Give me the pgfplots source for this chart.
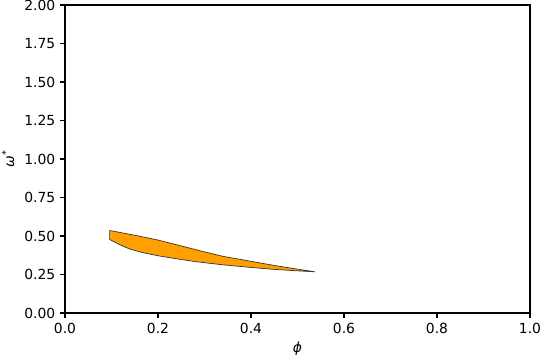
\documentclass[border=0pt]{standalone}
\usepackage{pgfplots}
\pgfplotsset{compat=1.18}
\usepackage{fontspec}
\setmainfont{DejaVu Sans}
\definecolor{mplorange}{HTML}{FFA000}
\begin{document}
\begin{tikzpicture}
\path[use as bounding box] (-46.8pt,-33.8pt) rectangle (342pt,225.4pt);
\begin{axis}[
  at={(0,0)}, anchor=south west,
  scale only axis,
  width=334.8pt, height=221.8pt,
  xmin=0, xmax=1, ymin=0, ymax=2,
  xtick={0,0.2,0.4,0.6,0.8,1.0},
  ytick={0,0.25,0.5,0.75,1.0,1.25,1.5,1.75,2.0},
  xticklabel style={/pgf/number format/.cd,fixed,fixed zerofill,precision=1},
  yticklabel style={/pgf/number format/.cd,fixed,fixed zerofill,precision=2},
  /pgf/number format/assume math mode=true,
  tick align=outside,
  major tick length=3.5pt,
  tick style={line width=0.8pt, black},
  axis line style={line width=0.8pt},
  xtick pos=bottom, ytick pos=left,
  ticklabel style={font=\fontsize{10}{12}\selectfont},
  xlabel={\fontsize{10}{12}\selectfont\itshape ϕ},
  ylabel={\fontsize{10}{12}\selectfont{\itshape ω}\textsuperscript{*}},
  xlabel style={at={(0.5,0)}, anchor=north, yshift=-17pt},
  ylabel style={at={(0,0.5)}, anchor=south, rotate=0, xshift=0pt, yshift=33pt},
]
\addplot[fill=mplorange, draw=black!80, line width=0.5pt] coordinates {
(0.096,0.536) (0.15,0.505) (0.2,0.474) (0.26,0.428) (0.30,0.397) (0.34,0.368) (0.40,0.336) (0.45,0.309) (0.50,0.285) (0.537,0.268)
(0.50,0.274) (0.448,0.284) (0.40,0.296) (0.34,0.313) (0.28,0.334) (0.232,0.356) (0.20,0.372) (0.168,0.392) (0.14,0.415) (0.118,0.443) (0.096,0.478)
} -- cycle;
\end{axis}
\end{tikzpicture}
\end{document}
